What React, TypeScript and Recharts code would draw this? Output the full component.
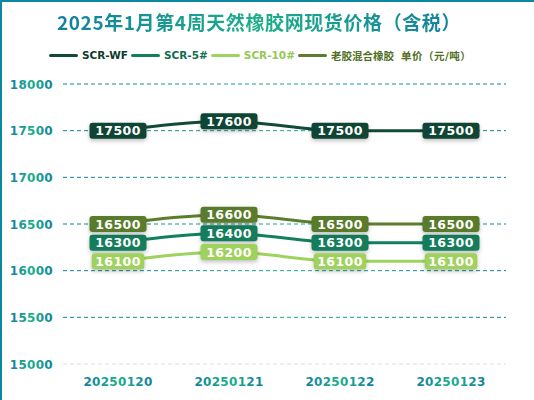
import { LineChart, Line, XAxis, YAxis, CartesianGrid, LabelList } from "recharts";

const dates = ["20250120", "20250121", "20250122", "20250123"];
const wfPrices = [17500, 17600, 17500, 17500];
const scr5Prices = [16300, 16400, 16300, 16300];
const scr10Prices = [16100, 16200, 16100, 16100];
const mixedPrices = [16500, 16600, 16500, 16500];
const seriesNames = ["SCR-WF", "SCR-5#", "SCR-10#", "老胶混合橡胶"];
const yTicks = [15000, 15500, 16000, 16500, 17000, 17500, 18000];
const titleText = "2025年1月第4周天然橡胶网现货价格（含税）";
const unitText = "单价（元/吨）";

const data = dates.map((d, i) => ({
    date: d,
    wf: wfPrices[i],
    scr5: scr5Prices[i],
    scr10: scr10Prices[i],
    mixed: mixedPrices[i],
}));

const series = [
    { key: "wf", name: seriesNames[0], line: "#114a38", box: "#0f4535", text: "#0d3b2c" },
    { key: "scr5", name: seriesNames[1], line: "#12805f", box: "#137d5c", text: "#0e6e50" },
    { key: "scr10", name: seriesNames[2], line: "#9fd35f", box: "#9fd15d", text: "#93c955" },
    { key: "mixed", name: seriesNames[3], line: "#5c7d2d", box: "#5a7b2b", text: "#4f6f25" },
];

const textWidth = (s: string) =>
    s.split("").reduce((w, c) => w + (c === "1" ? 5 : 9.5), 0);

const makeLabel = (color: string) => (props: any) => {
    const { x, y, value } = props;
    const s = String(value);
    const w = textWidth(s) + 14;
    const h = 16;
    return (
        <g>
            <rect
                x={x - w / 2}
                y={y - h / 2}
                width={w}
                height={h}
                rx={3}
                fill={color}
                style={{ filter: "drop-shadow(0 2px 2px rgba(0,0,0,0.25))" }}
            />
            <text
                x={x}
                y={y + 4.5}
                textAnchor="middle"
                fill="#fff"
                fontSize={12.5}
                fontWeight={700}
                fontFamily="DejaVu Sans"
                letterSpacing={0.4}
            >
                {s}
            </text>
        </g>
    );
};

const YTick = (props: any) => {
    const { y, payload } = props;
    return (
        <text
            x={53}
            y={y + 4.5}
            textAnchor="end"
            fill="url(#textGrad)"
            fontSize={12}
            fontWeight={700}
            fontFamily="DejaVu Sans"
            letterSpacing={0.3}
        >
            {payload.value}
        </text>
    );
};

const XTick = (props: any) => {
    const { x, payload } = props;
    return (
        <text
            x={x}
            y={386}
            textAnchor="middle"
            fill="url(#textGrad)"
            fontSize={12}
            fontWeight={700}
            fontFamily="DejaVu Sans"
            letterSpacing={0.3}
        >
            {payload.value}
        </text>
    );
};

export default function App() {
    return (
        <div style={{ position: "absolute", left: 0, top: 0, width: 534, height: 400, background: "#fff" }}>
            <div
                style={{
                    position: "absolute",
                    left: 0,
                    top: 0,
                    width: 534,
                    height: 400,
                    boxSizing: "border-box",
                    borderTop: "2px solid #0a889f",
                    borderLeft: "2px solid #0a889f",
                }}
            />
            <div
                style={{
                    position: "absolute",
                    left: 0,
                    top: 8,
                    width: 518,
                    textAlign: "center",
                    fontFamily: "'Noto Sans CJK SC'",
                    fontWeight: 700,
                    fontSize: 19,
                    letterSpacing: 0.6,
                    lineHeight: "28px",
                }}
            >
                <span
                    style={{
                        background: "linear-gradient(90deg, #12809e, #1bae88 50%, #12809e)",
                        WebkitBackgroundClip: "text",
                        backgroundClip: "text",
                        color: "transparent",
                    }}
                >
                    {titleText}
                </span>
            </div>
            <div
                style={{
                    position: "absolute",
                    left: 49,
                    top: 47,
                    height: 16,
                    display: "flex",
                    alignItems: "center",
                    fontFamily: "DejaVu Sans, 'Noto Sans CJK SC'",
                    fontWeight: 700,
                    fontSize: 10.5,
                    whiteSpace: "nowrap",
                }}
            >
                {series.map((s) => (
                    <div key={s.key} style={{ display: "flex", alignItems: "center", marginRight: 3 }}>
                        <div style={{ width: 29, height: 3, borderRadius: 2, background: s.line, marginRight: 4 }} />
                        <span style={{ color: s.text }}>{s.name}</span>
                    </div>
                ))}
                <span style={{ color: "#4f6f25", marginLeft: 4, letterSpacing: 0.5 }}>{unitText}</span>
            </div>
            <div style={{ position: "absolute", left: 0, top: 0 }}>
                <LineChart
                    width={534}
                    height={400}
                    data={data}
                    margin={{ top: 84, right: 28, bottom: 6, left: 0 }}
                >
                    <defs>
                        <linearGradient id="textGrad" x1="0" y1="0" x2="1" y2="0">
                            <stop offset="0%" stopColor="#12809e" />
                            <stop offset="50%" stopColor="#1bb089" />
                            <stop offset="100%" stopColor="#12809e" />
                        </linearGradient>
                        <linearGradient id="gridGrad" gradientUnits="userSpaceOnUse" x1="63" y1="0" x2="506" y2="0">
                            <stop offset="0%" stopColor="#12809e" />
                            <stop offset="50%" stopColor="#1aa98a" />
                            <stop offset="100%" stopColor="#12809e" />
                        </linearGradient>
                    </defs>
                    <CartesianGrid
                        vertical={false}
                        stroke="url(#gridGrad)"
                        strokeDasharray="4 3"
                        horizontalValues={[15500, 16000, 16500, 17000, 17500, 18000]}
                    />
                    <XAxis
                        dataKey="date"
                        height={30}
                        padding={{ left: 55, right: 55 }}
                        tickLine={false}
                        axisLine={{ stroke: "#dddddd", strokeDasharray: "4 3" }}
                        tick={<XTick />}
                    />
                    <YAxis
                        width={63}
                        domain={[15000, 18000]}
                        ticks={yTicks}
                        tickLine={false}
                        axisLine={false}
                        tick={<YTick />}
                    />
                    {series.map((s) => (
                        <Line
                            key={s.key}
                            dataKey={s.key}
                            name={s.name}
                            type="monotone"
                            stroke={s.line}
                            strokeWidth={3}
                            dot={false}
                            isAnimationActive={false}
                        >
                            <LabelList dataKey={s.key} content={makeLabel(s.box)} />
                        </Line>
                    ))}
                </LineChart>
            </div>
        </div>
    );
}
